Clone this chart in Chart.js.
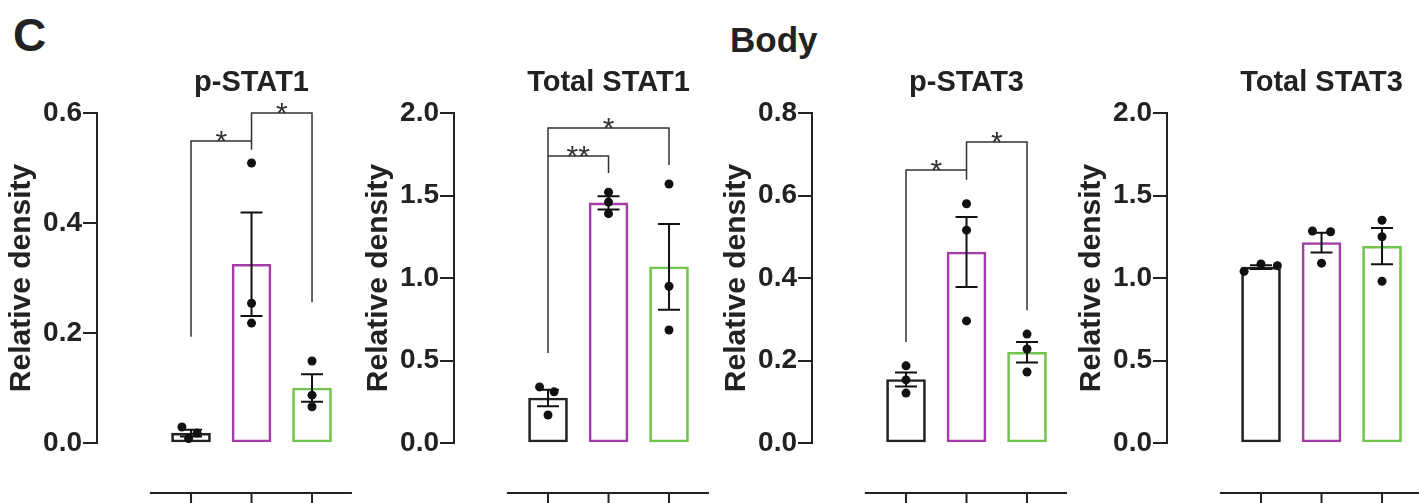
<!DOCTYPE html>
<html>
<head>
<meta charset="utf-8">
<script src="https://cdn.jsdelivr.net/npm/chart.js@4"></script>
<style>
  html, body { margin: 0; padding: 0; background: #fff; }
  body { width: 1419px; height: 503px; position: relative; overflow: hidden; font-family: "Liberation Sans", Arial, sans-serif; }
  .panel { position: absolute; top: 0; }
  .label { position: absolute; font-weight: bold; color: #222; line-height: 1; white-space: nowrap; }
</style>
</head>
<body>
<div class="label" style="left:13px; top:12px; font-size:46px;">C</div>
<div class="label" style="left:730px; top:22px; font-size:35px;">Body</div>

<div class="panel" style="left:0px"><canvas id="c0" width="357" height="503"></canvas></div>
<div class="panel" style="left:357px"><canvas id="c1" width="357" height="503"></canvas></div>
<div class="panel" style="left:715px"><canvas id="c2" width="357" height="503"></canvas></div>
<div class="panel" style="left:1070px"><canvas id="c3" width="357" height="503"></canvas></div>

<script>
// groups along x (labels are cut off in the figure)
const groups = [1, 2, 3];
const barColors = ["#222222", "#a23ea6", "#72c44e"];

const titles = ["p-STAT1", "Total STAT1", "p-STAT3", "Total STAT3"];
const yMax = [0.6, 2.0, 0.8, 2.0];
const yStep = [0.2, 0.5, 0.2, 0.5];

// p-STAT1
const pStat1Mean = [0.018, 0.325, 0.100];
const pStat1Sem = [0.006, 0.094, 0.025];
const pStat1Points = [[0.029, 0.018, 0.008], [0.509, 0.254, 0.218], [0.149, 0.087, 0.066]];
const pStat1Jitter = [[-0.15, 0.1, -0.04], [0, 0, 0], [0, 0, 0]];
const pStat1Sig = [
  { from: 1, to: 2, top: 0.549, leftEnd: 0.193, rightEnd: 0.533, text: "*" },
  { from: 2, to: 3, top: 0.600, leftEnd: 0.549, rightEnd: 0.256, text: "*" }
];

// Total STAT1
const tStat1Mean = [0.273, 1.455, 1.068];
const tStat1Sem = [0.05, 0.04, 0.26];
const tStat1Points = [[0.34, 0.31, 0.17], [1.52, 1.46, 1.39], [1.57, 0.95, 0.685]];
const tStat1Jitter = [[-0.14, 0.1, 0], [0, 0, 0], [0, 0, 0]];
const tStat1Sig = [
  { from: 1, to: 3, top: 1.909, leftEnd: 0.545, rightEnd: 1.685, text: "*" },
  { from: 1, to: 2, top: 1.739, leftEnd: 1.739, rightEnd: 1.636, text: "**" }
];

// p-STAT3
const pStat3Mean = [0.154, 0.463, 0.220];
const pStat3Sem = [0.017, 0.085, 0.025];
const pStat3Points = [[0.187, 0.153, 0.121], [0.58, 0.516, 0.296], [0.264, 0.228, 0.172]];
const pStat3Jitter = [[0, 0, 0], [0, 0, 0], [0, 0, 0]];
const pStat3Sig = [
  { from: 1, to: 2, top: 0.662, leftEnd: 0.245, rightEnd: 0.638, text: "*" },
  { from: 2, to: 3, top: 0.730, leftEnd: 0.662, rightEnd: 0.322, text: "*" }
];

// Total STAT3
const tStat3Mean = [1.066, 1.215, 1.193];
const tStat3Sem = [0.012, 0.06, 0.11];
const tStat3Points = [[1.04, 1.085, 1.075], [1.285, 1.28, 1.09], [1.35, 1.25, 0.98]];
const tStat3Jitter = [[-0.28, 0, 0.27], [-0.15, 0.15, 0], [0, 0, 0]];
const tStat3Sig = [];

const panels = [
  { mean: pStat1Mean, sem: pStat1Sem, points: pStat1Points, jitter: pStat1Jitter, sig: pStat1Sig },
  { mean: tStat1Mean, sem: tStat1Sem, points: tStat1Points, jitter: tStat1Jitter, sig: tStat1Sig },
  { mean: pStat3Mean, sem: pStat3Sem, points: pStat3Points, jitter: pStat3Jitter, sig: pStat3Sig },
  { mean: tStat3Mean, sem: tStat3Sem, points: tStat3Points, jitter: tStat3Jitter, sig: tStat3Sig }
];

Chart.defaults.font.family = "'Liberation Sans', Arial, sans-serif";
Chart.defaults.color = "#222";

// error bars, significance brackets, panel title and the offset group axis
function makeExtras(panel, title) {
  return {
    id: "extras",
    afterDatasetsDraw(chart) {
      const { ctx, chartArea } = chart;
      const x = chart.scales.x;
      const y = chart.scales.y;
      ctx.save();

      // SEM bars
      ctx.strokeStyle = "#111";
      ctx.lineWidth = 2;
      panel.mean.forEach((m, i) => {
        const px = x.getPixelForValue(groups[i]);
        const hi = y.getPixelForValue(m + panel.sem[i]);
        const lo = y.getPixelForValue(m - panel.sem[i]);
        ctx.beginPath();
        ctx.moveTo(px, hi); ctx.lineTo(px, lo);
        ctx.moveTo(px - 11, hi); ctx.lineTo(px + 11, hi);
        ctx.moveTo(px - 11, lo); ctx.lineTo(px + 11, lo);
        ctx.stroke();
      });

      // brackets
      ctx.strokeStyle = "#333";
      ctx.lineWidth = 1.5;
      ctx.fillStyle = "#333";
      ctx.font = "30px 'Liberation Sans', Arial, sans-serif";
      ctx.textAlign = "center";
      ctx.textBaseline = "alphabetic";
      panel.sig.forEach(s => {
        const x1 = x.getPixelForValue(s.from);
        const x2 = x.getPixelForValue(s.to);
        const yt = y.getPixelForValue(s.top);
        ctx.beginPath();
        ctx.moveTo(x1, y.getPixelForValue(s.leftEnd));
        ctx.lineTo(x1, yt);
        ctx.lineTo(x2, yt);
        ctx.lineTo(x2, y.getPixelForValue(s.rightEnd));
        ctx.stroke();
        ctx.fillText(s.text, (x1 + x2) / 2, yt + 10);
      });

      // title
      ctx.fillStyle = "#222";
      ctx.font = "bold 29px 'Liberation Sans', Arial, sans-serif";
      ctx.fillText(title, x.getPixelForValue(2), chartArea.top - 22);

      // group axis below the plot
      const ya = chartArea.bottom + 50;
      ctx.strokeStyle = "#222";
      ctx.lineWidth = 2;
      ctx.beginPath();
      ctx.moveTo(x.getPixelForValue(0.32), ya);
      ctx.lineTo(x.getPixelForValue(3.66), ya);
      groups.forEach(g => {
        const px = x.getPixelForValue(g);
        ctx.moveTo(px, ya);
        ctx.lineTo(px, ya + 20);
      });
      ctx.stroke();
      ctx.restore();
    }
  };
}

panels.forEach((panel, k) => {
  const ctx = document.getElementById("c" + k).getContext("2d");
  const bars = panel.mean.map((m, i) => ({ x: groups[i], y: m }));
  const dots = [];
  panel.points.forEach((list, i) => {
    list.forEach((v, j) => dots.push({ x: groups[i] + panel.jitter[i][j], y: v }));
  });

  new Chart(ctx, {
    type: "bar",
    data: {
      datasets: [
        {
          type: "scatter",
          data: dots,
          order: 0,
          pointRadius: 4.5,
          pointBackgroundColor: "#111",
          pointBorderWidth: 0
        },
        {
          type: "bar",
          data: bars,
          order: 1,
          backgroundColor: "rgba(255,255,255,0)",
          borderColor: barColors,
          borderWidth: 2,
          borderSkipped: false,
          barThickness: 39
        }
      ]
    },
    options: {
      responsive: false,
      animation: false,
      layout: { padding: { top: 113, bottom: 60, left: 0, right: 0 } },
      plugins: { legend: { display: false }, tooltip: { enabled: false } },
      scales: {
        x: { type: "linear", offset: false, min: -0.554, max: 3.669, display: false },
        y: {
          min: 0,
          max: yMax[k],
          ticks: {
            stepSize: yStep[k],
            padding: 1,
            color: "#222",
            font: { size: 28, weight: "bold" },
            callback: v => v.toFixed(1)
          },
          grid: { drawOnChartArea: false, tickLength: 14, color: "#222", lineWidth: 2 },
          border: { color: "#222", width: 2 },
          title: {
            display: true,
            text: "Relative density",
            color: "#222",
            font: { size: 30, weight: "bold" },
            padding: { top: 4, bottom: 0 }
          },
          afterFit: s => { s.width = 97; }
        }
      }
    },
    plugins: [makeExtras(panel, titles[k])]
  });
});
</script>
</body>
</html>
